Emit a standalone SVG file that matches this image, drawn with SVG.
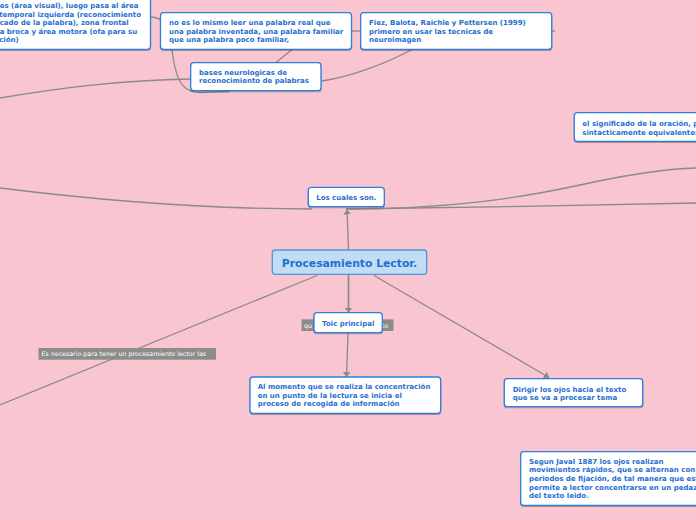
<svg xmlns="http://www.w3.org/2000/svg" width="696" height="520" viewBox="0 0 696 520">
<defs>
<style>
.node rect{fill:#ffffff;stroke:#2d7fdc;stroke-width:1.3}
.t{font-family:"DejaVu Sans",Verdana,sans-serif;font-weight:bold;font-size:7px;fill:#1f6fd1}
.c{fill:none;stroke:#8a8a8a;stroke-width:1.3}
.lbl rect{fill:#8c8c8c}
.lt{font-family:"DejaVu Sans",Verdana,sans-serif;font-size:6.3px;fill:#ffffff}
</style>
<marker id="ah" markerUnits="userSpaceOnUse" markerWidth="6" markerHeight="8" refX="5" refY="4" orient="auto"><path d="M0,0 L5,4 L0,8 z" fill="#8a8a8a"/></marker>
<filter id="sh" x="-5%" y="-10%" width="110%" height="130%"><feDropShadow dx="0" dy="1" stdDeviation="0.6" flood-color="#000" flood-opacity="0.3"/></filter>
</defs>
<rect width="696" height="520" fill="#f8c5d0"/>
<g id="connectors">
<path class="c" d="M0,188 C120,203 230,209 312,209"/>
<path class="c" d="M346,209 C450,209 520,198 580,185 C630,174 665,169 696,168"/>
<path class="c" d="M346,209 C450,208 600,205 696,203"/>
<path class="c" d="M348.5,250 L347,209.5" marker-end="url(#ah)"/>
<path class="c" d="M0,98 C60,88 120,80 191,79"/>
<path class="c" d="M322,81 C350,77 385,64 412,49.5"/>
<path class="c" d="M292,49.5 L276,62.5"/>
<path class="c" d="M150,17 C165,17 170,28 172,50 C176,82 183,92.5 200,92.5 L230,91.5"/>
<path class="c" d="M352,31 L361,31"/>
<path class="c" d="M552,31 L555,31"/>
<path class="c" d="M317,275.5 L0,405"/>
<path class="c" d="M348.5,275 L348.5,312.5" style="stroke-width:1.7" marker-end="url(#ah)"/>
<path class="c" d="M348,333 L346.5,377" marker-end="url(#ah)"/>
<path class="c" d="M374,275.5 L549,377.5" marker-end="url(#ah)"/>
</g>
<g id="label-necesario" class="lbl">
<rect x="38.5" y="348" width="177.5" height="11.7"/>
<text class="lt" x="41.5" y="356.2">Es necesario para tener un procesamiento lector las</text>
</g>
<g id="label-toic" class="lbl">
<rect x="301.5" y="319.3" width="92" height="11.7"/>
<text class="lt" x="304" y="327.5">qu</text>
<text class="lt" x="388" y="327.5" text-anchor="end">to</text>
</g>
<g id="node-areas" class="node">
<rect x="-10" y="-10" width="160.5" height="59.3" rx="3" filter="url(#sh)"/>
<text class="t"><tspan x="-0.3" y="8">es (área visual), luego pasa al área</tspan><tspan x="-0.8" y="16.6">temporal izquierda (reconocimiento</tspan><tspan x="-0.3" y="25.2">cado de la palabra), zona frontal</tspan><tspan x="-0.3" y="33.8">a broca y área motora (ofa para su</tspan><tspan x="-0.8" y="42.4">ción)</tspan></text>
</g>
<g id="node-mismo" class="node">
<rect x="160.5" y="12.7" width="191" height="36.6" rx="3" filter="url(#sh)"/>
<text class="t"><tspan x="169" y="25">no es lo mismo leer una palabra real que</tspan><tspan x="169" y="33.6">una palabra inventada, una palabra familiar</tspan><tspan x="169" y="42.2">que una palabra poco familiar,</tspan></text>
</g>
<g id="node-fiez" class="node">
<rect x="360.7" y="12.7" width="191" height="36.6" rx="3" filter="url(#sh)"/>
<text class="t"><tspan x="369" y="25">Fiez, Balota, Raichle y Pettersen (1999)</tspan><tspan x="369" y="33.6">primero en usar las tecnicas de</tspan><tspan x="369" y="42.2">neuroimagen</tspan></text>
</g>
<g id="node-bases" class="node">
<rect x="190.7" y="62.7" width="130.3" height="28" rx="3" filter="url(#sh)"/>
<text class="t"><tspan x="199" y="74.5">bases neurologicas de</tspan><tspan x="199" y="83.1">reconocimiento de palabras</tspan></text>
</g>
<g id="node-significado" class="node">
<rect x="574.3" y="112.7" width="140" height="28.6" rx="3" filter="url(#sh)"/>
<text class="t"><tspan x="582.3" y="126">el significado de la oración, p</tspan><tspan x="582.3" y="134.6">sintacticamente equivalentes</tspan></text>
</g>
<g id="node-cuales" class="node">
<rect x="308.3" y="187.3" width="76" height="19.4" rx="3" filter="url(#sh)"/>
<text class="t" x="346.3" y="199.5" text-anchor="middle">Los cuales son.</text>
</g>
<g id="node-central">
<rect x="272.3" y="250" width="154.4" height="24.3" rx="3" fill="#c2ddf3" stroke="#4f95e2" stroke-width="1.3"/>
<text x="349.5" y="266.6" text-anchor="middle" font-family="'DejaVu Sans',Verdana,sans-serif" font-weight="bold" font-size="10.8" fill="#1a72d6">Procesamiento Lector.</text>
</g>
<g id="node-toic" class="node">
<rect x="314" y="312.7" width="68.3" height="20" rx="3" filter="url(#sh)"/>
<text class="t" x="348.2" y="325.8" text-anchor="middle">Toic principal</text>
</g>
<g id="node-momento" class="node">
<rect x="250" y="377" width="190.7" height="36.3" rx="3" filter="url(#sh)"/>
<text class="t"><tspan x="257.7" y="389.2">Al momento que se realiza la concentración</tspan><tspan x="257.7" y="397.8">en un punto de la lectura se inicia el</tspan><tspan x="257.7" y="406.4">proceso de recogida de información</tspan></text>
</g>
<g id="node-dirigir" class="node">
<rect x="504.3" y="378.7" width="138.4" height="28" rx="3" filter="url(#sh)"/>
<text class="t"><tspan x="512.7" y="391.5">Dirigir los ojos hacia el texto</tspan><tspan x="512.7" y="400.1">que se va a procesar tema</tspan></text>
</g>
<g id="node-javal" class="node">
<rect x="520.7" y="451.7" width="190" height="53.6" rx="3" filter="url(#sh)"/>
<text class="t"><tspan x="529" y="463.8">Segun Javal 1887 los ojos realizan</tspan><tspan x="529" y="472.4">movimientos rápidos, que se alternan con</tspan><tspan x="529" y="481">periodos de fijación, de tal manera que est</tspan><tspan x="529" y="489.6">permite a lector concentrarse en un pedazo</tspan><tspan x="529" y="498.2">del texto leido.</tspan></text>
</g>
</svg>
